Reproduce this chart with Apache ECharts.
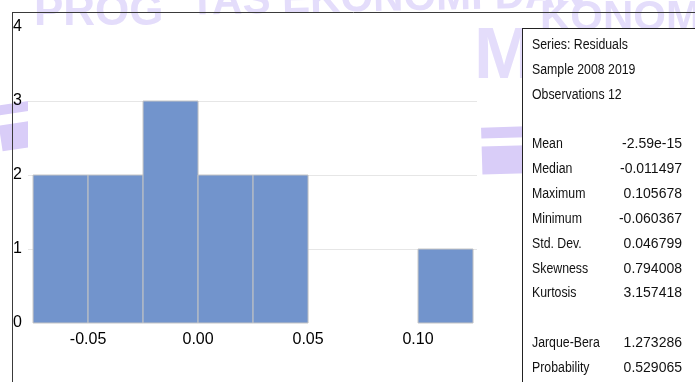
<!DOCTYPE html>
<html>
<head>
<meta charset="utf-8">
<script src="https://cdn.jsdelivr.net/npm/echarts@6/dist/echarts.min.js"></script>
<style>
  html, body { margin: 0; padding: 0; background: #fff; }
  #chart { width: 695px; height: 382px; }
</style>
</head>
<body>
<div id="chart"></div>
<script>
// histogram bins of the residuals
const binStart = [-0.075, -0.05, -0.025, 0, 0.025, 0.05, 0.075, 0.1];
const binEnd = [-0.05, -0.025, 0, 0.025, 0.05, 0.075, 0.1, 0.125];
const counts = [2, 2, 3, 2, 2, 0, 0, 1];
const xTicks = [-0.05, 0, 0.05, 0.1];

// statistics box
const headerLines = ["Series: Residuals", "Sample 2008 2019", "Observations 12"];
const statNames = ["Mean", "Median", "Maximum", "Minimum", "Std. Dev.", "Skewness", "Kurtosis", "", "Jarque-Bera", "Probability"];
const statValues = ["-2.59e-15", "-0.011497", "0.105678", "-0.060367", "0.046799", "0.794008", "3.157418", "", "1.273286", "0.529065"];

const boxFont = "14px 'Liberation Sans', Arial, sans-serif";
const rowY = (i) => 45 + i * 24.85;
const wm = "#e4ddfb";
const wmBand = "#d9cdf8";
const wmFont = (s) => "bold " + s + "px 'Liberation Sans', Arial, sans-serif";

const graphics = [];

// faint watermark behind the chart
graphics.push({ type: "text", x: 190, y: 24, rotation: 0.02, z: -20,
  style: { text: "TAS EKONOMI DAN", fill: wm, font: wmFont(42), verticalAlign: "bottom" } });
graphics.push({ type: "text", x: 34, y: -9, z: -19,
  style: { text: "PROG", fill: wm, font: wmFont(44) } });
graphics.push({ type: "text", x: 540, y: -3, z: -20,
  style: { text: "KONOM", fill: wm, font: wmFont(42) } });
graphics.push({ type: "text", x: 474, y: 22, z: -20,
  style: { text: "MU", fill: wm, font: wmFont(72) } });
graphics.push({ type: "rect", shape: { x: -20, y: 104, width: 48, height: 10 }, rotation: 0.15, z: -20, style: { fill: wmBand } });
graphics.push({ type: "rect", shape: { x: -20, y: 124, width: 48, height: 26 }, rotation: 0.15, z: -20, style: { fill: wmBand } });
graphics.push({ type: "rect", shape: { x: 477, y: 142, width: 45, height: 11 }, rotation: 0.03, z: -20, style: { fill: wmBand } });
graphics.push({ type: "rect", shape: { x: 477, y: 161, width: 45, height: 28 }, rotation: 0.03, z: -20, style: { fill: wmBand } });

// white areas of the plot and the box
graphics.push({ type: "rect", shape: { x: 28, y: 27, width: 449, height: 360 }, z: -10, style: { fill: "#fff" } });
graphics.push({ type: "rect", shape: { x: 522, y: 28, width: 180, height: 360 }, z: -10, style: { fill: "#fff" } });

// frame lines
graphics.push({ type: "line", shape: { x1: 12, y1: 12.5, x2: 695, y2: 12.5 }, style: { stroke: "#3a3a3a", lineWidth: 1 } });
graphics.push({ type: "line", shape: { x1: 12.5, y1: 12, x2: 12.5, y2: 382 }, style: { stroke: "#3a3a3a", lineWidth: 1 } });
graphics.push({ type: "line", shape: { x1: 522, y1: 28.5, x2: 695, y2: 28.5 }, style: { stroke: "#222", lineWidth: 1 } });
graphics.push({ type: "line", shape: { x1: 522.5, y1: 28, x2: 522.5, y2: 382 }, style: { stroke: "#222", lineWidth: 1 } });

headerLines.forEach((t, i) => {
  graphics.push({ type: "text", x: 532, y: rowY(i), scaleX: 0.88,
    style: { text: t, font: boxFont, fill: "#111", verticalAlign: "middle" } });
});
statNames.forEach((t, i) => {
  if (!t) return;
  graphics.push({ type: "text", x: 532, y: rowY(i + 4), scaleX: 0.88,
    style: { text: t, font: boxFont, fill: "#111", verticalAlign: "middle" } });
  graphics.push({ type: "text", x: 682, y: rowY(i + 4),
    style: { text: statValues[i], font: boxFont, fill: "#111", verticalAlign: "middle", align: "right" } });
});

const chart = echarts.init(document.getElementById("chart"));
chart.setOption({
  animation: false,
  backgroundColor: "#fff",
  grid: { left: 28, right: 218, top: 27, bottom: 59 },
  xAxis: {
    type: "value",
    min: -0.0773,
    max: 0.1268,
    axisLine: { show: false },
    axisTick: { show: false },
    splitLine: { show: false },
    axisLabel: {
      customValues: xTicks,
      formatter: (v) => v.toFixed(2),
      fontSize: 16,
      color: "#000",
      margin: 9,
      fontFamily: "'Liberation Sans', Arial, sans-serif"
    }
  },
  yAxis: {
    type: "value",
    min: 0,
    max: 4,
    interval: 1,
    axisLine: { show: false },
    axisTick: { show: false },
    splitLine: { lineStyle: { color: ["rgba(0,0,0,0)", "#e6e6e6", "#e6e6e6", "#e6e6e6", "rgba(0,0,0,0)"], width: 1 } },
    axisLabel: {
      align: "left",
      margin: 15,
      fontSize: 16,
      color: "#000",
      fontFamily: "'Liberation Sans', Arial, sans-serif"
    }
  },
  graphic: graphics,
  series: [{
    type: "custom",
    data: binStart.map((s, i) => [s, binEnd[i], counts[i]]),
    renderItem: (params, api) => {
      const h = api.value(2);
      if (!h) return null;
      const p0 = api.coord([api.value(0), 0]);
      const p1 = api.coord([api.value(1), h]);
      return {
        type: "rect",
        shape: { x: p0[0], y: p1[1], width: p1[0] - p0[0], height: p0[1] - p1[1] },
        style: { fill: "#7294cc", stroke: "#c4c4c4", lineWidth: 1 }
      };
    }
  }]
});
</script>
</body>
</html>
